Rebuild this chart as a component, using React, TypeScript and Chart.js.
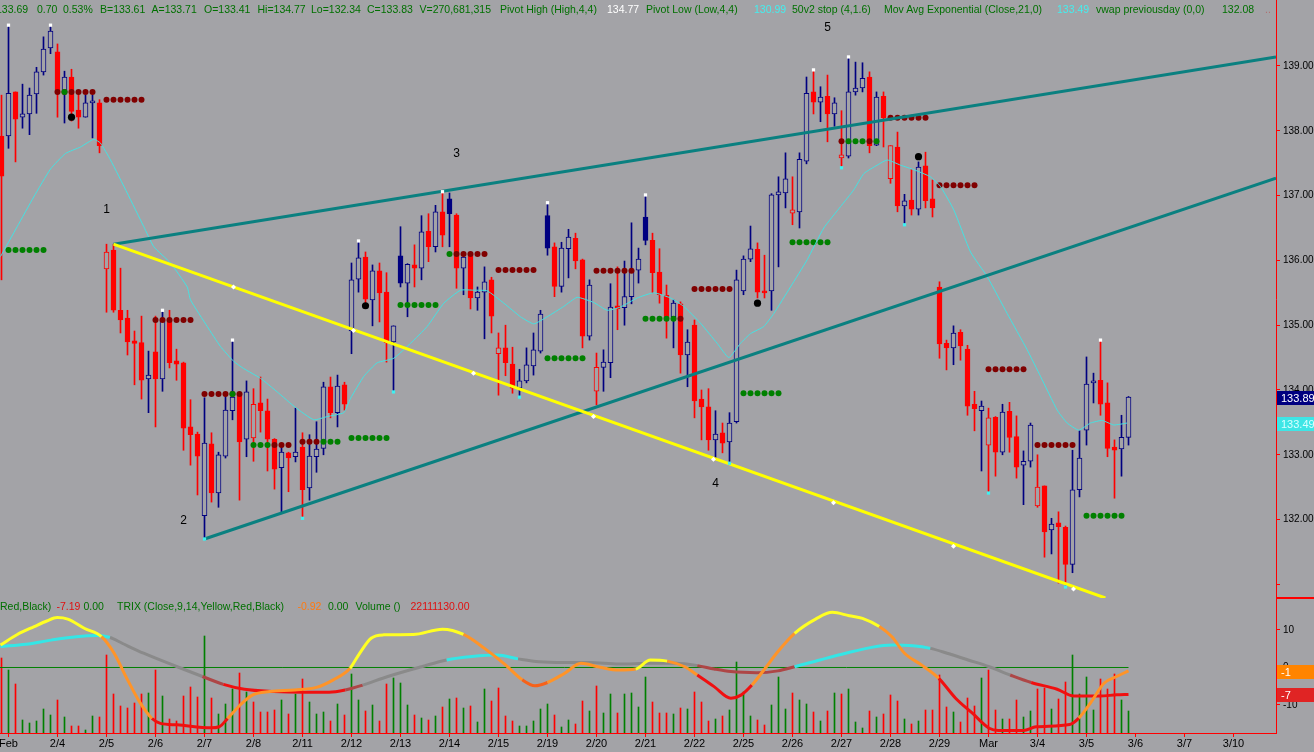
import React, { useEffect, useRef } from 'react';
import { Chart, registerables } from 'chart.js';
Chart.register(...registerables);

const FONT = "'Liberation Sans', Arial, sans-serif";
const BG = '#a3a3a7';
const NAVY = '#000080';
const RED = '#ff0000';

// ---- price bars (7 hourly bars per day; bar 0 = last bar of Jan 31) ----
const opens = [137.92,137.92,138.60,138.21,138.26,138.57,138.91,139.28,139.22,138.60,138.83,138.32,138.21,138.43,138.43,135.87,136.16,135.23,135.11,134.76,134.73,134.17,134.59,134.17,135.08,134.45,134.42,133.43,133.32,132.06,133.17,132.41,132.98,133.68,133.94,133.24,133.26,133.80,133.68,133.24,132.80,133.03,132.97,133.12,132.49,132.97,133.10,134.05,133.65,134.08,134.91,135.71,136.05,135.39,135.84,135.51,134.74,136.07,135.65,135.93,135.88,136.45,136.21,136.75,136.95,136.70,135.88,136.10,135.42,135.51,135.70,134.56,134.65,134.40,134.03,134.14,134.37,134.60,136.69,136.21,135.60,136.18,136.34,136.01,134.83,133.98,134.35,134.42,135.30,135.27,135.44,135.85,136.67,136.31,135.82,135.46,135.13,135.33,134.54,135.00,133.86,133.74,133.23,133.34,133.20,133.51,135.53,136.02,136.17,135.53,135.53,137.01,137.04,136.73,136.75,137.53,138.60,138.44,138.53,138.26,137.58,137.61,138.60,138.66,138.83,137.78,138.53,137.26,137.75,136.84,136.93,136.79,137.46,136.95,135.59,134.72,134.65,134.89,134.63,133.78,133.68,133.15,133.58,133.04,133.67,133.28,132.84,132.90,132.21,132.52,131.84,131.95,131.88,131.31,132.46,133.38,134.11,134.15,133.80,133.12,133.09,133.27];
const highs = [138.55,139.63,138.60,138.72,138.66,138.98,139.45,139.63,139.34,138.92,138.95,138.58,138.55,138.55,138.48,136.25,136.25,135.88,135.23,134.91,135.14,134.60,135.14,135.23,135.23,134.63,134.43,133.85,133.35,133.88,133.34,133.04,133.94,134.77,133.94,134.14,134.02,134.20,133.86,133.25,133.15,133.04,133.72,133.34,133.31,133.51,134.12,134.20,134.23,134.12,135.96,136.30,136.13,135.93,135.96,135.81,134.99,136.52,135.95,136.24,136.69,136.72,136.85,137.06,137.04,136.72,136.11,136.10,135.59,135.90,135.74,134.88,135.00,134.66,134.32,134.65,134.88,135.23,136.89,136.27,136.28,136.48,136.42,136.02,135.70,134.57,134.62,135.64,135.90,135.99,136.58,136.19,137.01,136.42,136.18,135.62,135.39,135.36,134.93,135.08,134.00,134.02,133.68,133.49,133.65,135.85,136.07,136.53,136.27,136.08,137.03,137.29,137.66,137.29,137.66,138.83,138.94,138.68,138.86,138.51,138.31,139.14,139.06,139.05,138.91,138.60,138.60,137.77,137.98,137.02,137.40,137.52,137.67,137.24,135.67,134.77,134.99,134.93,134.69,133.98,133.83,133.72,133.59,133.78,133.81,133.60,133.06,133.49,133.00,132.52,132.02,132.12,131.90,133.07,133.37,134.51,134.26,134.77,134.11,133.23,133.61,133.90];
const lows = [135.70,137.73,137.52,138.04,137.94,138.27,138.86,139.19,138.21,138.12,138.15,138.04,138.21,137.89,137.66,135.20,135.20,134.88,134.54,134.08,133.86,133.65,133.43,133.98,134.34,134.15,133.07,132.84,132.38,131.70,132.27,132.19,132.95,133.54,132.30,132.97,132.90,133.35,132.75,132.47,132.09,132.43,132.89,132.02,132.30,132.73,133.00,133.57,133.43,133.69,134.56,135.51,135.28,134.99,135.05,134.43,133.97,135.59,135.13,135.59,135.70,135.98,136.13,136.21,136.21,135.57,135.47,135.25,135.23,134.79,134.88,133.92,134.22,133.95,133.89,134.11,134.23,134.57,136.08,135.44,135.51,135.73,135.87,134.65,134.77,133.77,133.98,134.19,134.93,135.00,135.33,135.65,136.24,135.50,135.34,134.80,134.65,134.26,134.05,133.57,133.23,133.07,132.95,133.03,132.87,133.49,135.47,135.98,135.42,135.42,135.23,135.90,136.81,136.55,136.50,137.49,138.26,138.14,137.83,138.07,137.43,137.58,138.55,138.60,137.66,137.77,137.75,137.19,136.75,136.55,136.70,136.70,136.81,136.67,134.49,134.31,134.39,134.46,133.61,133.37,132.75,132.41,132.67,133.00,133.04,132.64,132.23,132.81,132.19,131.42,131.47,131.02,130.96,131.18,132.35,133.15,133.80,133.61,132.97,132.33,132.67,133.15];
const closes = [137.30,138.58,138.18,138.26,138.55,138.91,139.26,139.54,138.60,138.83,138.30,138.21,138.43,138.44,137.77,136.13,135.23,135.08,134.74,134.72,134.15,134.23,134.17,135.08,134.42,134.40,133.41,133.31,132.98,133.18,132.41,133.00,133.69,133.89,133.20,133.97,133.78,133.68,133.24,132.78,133.04,132.95,133.04,132.46,132.98,133.09,134.05,133.65,134.06,133.78,135.70,136.04,135.40,135.84,135.50,134.73,134.99,135.65,135.94,135.88,136.44,136.21,136.75,136.39,136.72,135.88,136.05,135.42,135.51,135.67,135.14,134.65,134.42,134.03,134.14,134.39,134.62,135.17,136.19,135.60,136.19,136.36,135.99,134.83,135.62,134.35,134.43,135.28,135.25,135.44,135.85,136.02,136.31,135.81,135.47,135.11,135.34,134.54,134.74,133.83,133.74,133.23,133.32,133.18,133.49,135.70,136.02,136.18,135.51,135.50,137.01,137.06,137.26,136.78,137.56,138.58,138.44,138.52,138.26,138.43,137.63,138.60,138.66,138.81,137.77,138.52,138.20,137.77,136.84,136.92,136.79,137.44,136.92,136.81,134.71,134.65,134.88,134.68,133.75,133.71,133.75,133.57,133.04,133.66,133.27,132.81,132.90,133.46,132.50,131.81,131.93,131.89,131.31,132.46,132.95,134.09,134.14,133.78,133.10,133.07,133.27,133.89];
// volume per bar, millions of shares
const volumes = [75,63,49,13,10,12,24,18,33,16,7,7,3,17,16,78,39,27,25,30,39,40,63,37,14,12,37,46,36,97,35,19,29,44,60,41,31,21,21,23,33,19,39,54,31,19,21,12,29,18,59,33,22,28,12,49,55,50,28,18,15,13,17,26,34,35,25,27,11,44,32,45,17,12,7,7,12,24,29,18,6,13,9,32,22,47,20,39,20,39,40,26,56,31,20,20,19,25,24,41,31,12,14,17,23,71,41,17,13,8,28,56,24,40,33,29,21,12,22,40,39,44,11,5,22,16,19,38,32,14,9,12,23,23,58,26,21,11,35,27,55,63,23,14,14,33,16,22,44,45,24,34,51,78,39,56,23,54,44,59,33,22];

// ---- x axis days ----
const dayStartIdx = [1,8,15,22,29,36,43,50,57,64,71,78,85,92,99,106,113,120,127,134,141,148,155,162,169,176];
const dayLabels = ['Feb','2/4','2/5','2/6','2/7','2/8','2/11','2/12','2/13','2/14','2/15','2/19','2/20','2/21','2/22','2/25','2/26','2/27','2/28','2/29','Mar','3/4','3/5','3/6','3/7','3/10'];
const priceTicks = [131,132,133,134,135,136,137,138,139];

// ---- Mov Avg Exponential (Close,21) ----
const emaIdx = [-0.14,2.24,4.61,7.0,9.14,11.29,13.19,14.14,15.57,17.96,20.33,21.76,24.14,26.53,27,29.39,31.29,33.19,34.61,37,39.39,42,44.61,46.53,48.9,49.86,51.76,53.67,56.04,58.43,60.81,63.19,65.57,67.47,69.39,71.76,74.14,76.04,77.96,80.33,82.24,84.61,86.53,88.43,90.81,93.19,95.57,97.47,99.86,102.24,103.9,105.57,107,108.9,110.33,112.71,115.1,117.47,119.86,121.76,123.19,125.1,126.53,128.43,130.33,132.71,134.14,136.04,138.43,140.81,143.67,146.53,148.43,150.81,152.24,153.9,155.57,157.24,158.9,160.81];
const emaVal = [136.06,136.52,136.98,137.41,137.65,137.75,137.87,137.81,137.55,137.04,136.52,136.21,135.96,135.59,135.39,134.98,134.67,134.44,134.33,134.18,133.97,133.73,133.54,133.59,133.65,133.87,134.21,134.42,134.49,134.72,134.98,135.34,135.54,135.54,135.53,135.34,135.13,135.02,135.13,135.29,135.43,135.35,135.23,135.28,135.42,135.50,135.42,135.29,135.03,134.72,134.50,134.72,134.87,134.98,135.18,135.59,136.01,136.50,136.83,137.09,137.34,137.47,137.55,137.47,137.40,137.29,137.14,136.78,136.13,135.75,135.18,134.62,134.21,133.69,133.49,133.38,133.49,133.53,133.46,133.49];

// ---- pivots ----
const pivotHighIdx = [1,7,23,33,51,63,78,92,116,121,157];
const pivotLowIdx = [29,43,56,74,104,120,129,141,152];

// ---- 50v2 stop dots (runs) ----
const maroonRunStart = [8,15,22,29,39,43,65,71,85,97,99,120,124,127,134,141,148];
const maroonRunLen   = [6,6,6,6,3,3,5,6,6,1,6,1,1,6,6,6,6];
const maroonRunLevel = [138.60,138.48,135.08,133.94,133.15,133.20,136.10,135.85,135.84,135.10,135.56,137.84,137.84,138.20,137.16,134.32,133.15];
const greenRunStart = [1,9,33,36,46,50,57,64,78,92,106,113,121,125,155];
const greenRunLen   = [6,1,1,3,3,6,6,1,6,5,6,6,3,1,6];
const greenRunLevel = [136.16,138.60,133.94,133.15,133.20,133.26,135.31,136.10,134.49,135.10,133.95,136.28,137.84,137.84,132.06];
const blackDotIdx = [10,52,108,131];
const blackDotVal = [138.21,135.30,135.34,137.60];

// ---- trend lines ----
const upperTealIdx = [16,182.07];
const upperTealVal = [136.25,139.14];
const lowerTealIdx = [29,182.07];
const lowerTealVal = [131.70,137.27];
const yellowIdx = [16,157.7];
const yellowVal = [136.25,130.79];
const yellowMarkIdx = [33.14,50.29,67.43,84.57,101.71,118.86,136,153.14];
const yellowMarkVal = [135.59,134.92,134.26,133.59,132.93,132.26,131.59,130.93];

// ---- wave labels ----
const waveText = ['1','2','3','4','5'];
const waveIdx = [15,26,65,102,118];
const waveVal = [136.79,131.99,137.64,132.55,139.59];

// ---- lower panel: TRIX and oscillator ----
const trixIdx = [-0.14,2.26,4.67,6.47,7.97,9.47,11.89,14.29,16.09,17.9,19.7,21.5,22.7,25.1,29.9,31.1,32.3,34.1,35.9,38.3,41.9,45.0,47.4,49.8,51.0,52.8,54.6,58.8,63.0,66.0,69.0,72.0,74.4,76.2,78.0,80.4,82.8,85.2,88.2,90.6,92.7,95.1,97.6,99.4,101.8,104.2,105.7,107.2,109.1,110.9,113.3,116.3,118.7,121.1,123.0,125.4,127.2,129.0,131.4,133.9,136.3,138.7,141.1,142.4,146.0,147.8,152.6,153.9,155.7,157.5,159.3,161.0];
const trixVal = [6.0,8.8,10.9,12.4,13.3,12.9,10.4,8.2,3.8,-2.9,-9.1,-13.6,-14.9,-15.3,-16.1,-15.8,-13.6,-10.0,-7.3,-6.4,-6.0,-5.3,-3.3,-0.2,3.3,7.8,8.7,8.8,10.2,8.8,5.1,0.7,-3.3,-4.9,-4.0,-1.6,1.1,0.2,-0.7,-0.4,2.0,1.7,0.2,-2.0,-5.1,-8.2,-7.3,-4.7,-0.2,4.2,9.1,12.9,14.7,13.8,13.1,10.9,8.2,3.8,0.7,-2.9,-8.2,-12.2,-16.2,-16.8,-16.8,-15.8,-15.2,-13.5,-9.1,-4.2,-2.4,-0.92];
const oscIdx = [-0.14,3.5,7.1,10.7,13.7,15.5,17.3,20.3,25.1,28.7,31.7,34.7,38.9,43.1,46.8,49.1,51.6,55.2,60.0,63.6,67.2,70.8,73.8,76.8,80.4,84.0,88.2,92.7,96.3,99.4,101.8,104.2,107.9,110.9,113.3,116.9,120.6,124.1,127.2,130.2,132.7,135.1,138.1,141.1,144.1,147.1,150.8,153.2,156.9,159.3,161.0];
const oscVal = [5.6,6.2,7.3,8.2,8.5,8.0,6.4,3.8,0.2,-2.4,-4.5,-5.8,-6.4,-6.6,-6.6,-6.0,-4.7,-2.4,0.2,2.0,2.9,3.3,2.3,1.5,1.3,1.3,0.9,1.1,1.1,0.5,-0.4,-1.1,-1.4,-0.9,0.2,2.0,3.8,5.3,6.0,5.8,5.1,3.8,2.0,0.2,-2.0,-4.0,-5.8,-7.6,-7.6,-7.3,-7.19];

// line colouring (styles)
const PAL: Record<string, string> = { Y: '#ffff22', O: '#ff9428', OR: '#f6621a', R: '#f01010', C: '#34e6e6', G: '#8a8a8a', DR: '#ae4646' };
const trixBreaks = [-1,14.1,21.3,32.7,49.1,67,74.1,77.7,91.3,95.6,99.9,107,112.7,125.6,134.1,154.1];
const trixKeys = ['Y','O','R','O','Y','O','OR','O','Y','O','R','O','Y','O','R','O'];
const oscBreaks = [-1,16.3,27,32.7,48.4,52,62.7,74.1,99.9,112.7,114.9,133.4,142.7,148.4];
const oscKeys = ['C','G','DR','R','DR','G','C','G','DR','G','C','G','DR','R'];

const X_MIN = -1.5 / 7;
const X_MAX = 1274.5 / 7;

function colorAt(breaks: number[], keys: string[], x: number) {
  let k = 0;
  for (let i = 0; i < breaks.length; i++) if (x >= breaks[i]) k = i;
  return PAL[keys[k]];
}
function isUp(i: number) { return i === 0 ? closes[0] >= opens[0] : closes[i] >= closes[i - 1]; }
function runPoints(starts: number[], lens: number[], levels: number[]) {
  const pts: { x: number; y: number }[] = [];
  starts.forEach((s, k) => { for (let j = 0; j < lens[k]; j++) pts.push({ x: s + j, y: levels[k] }); });
  return pts;
}
const zip = (xs: number[], ys: number[]) => xs.map((x, i) => ({ x, y: ys[i] }));

const GREEN_TXT = '#007000';
const header1: [string, number, string][] = [
  ['133.69', -4, GREEN_TXT], ['0.70', 37, GREEN_TXT], ['0.53%', 63, GREEN_TXT], ['B=133.61', 100, GREEN_TXT],
  ['A=133.71', 151.5, GREEN_TXT], ['O=133.41', 204, GREEN_TXT], ['Hi=134.77', 257.5, GREEN_TXT], ['Lo=132.34', 311, GREEN_TXT],
  ['C=133.83', 367, GREEN_TXT], ['V=270,681,315', 419.5, GREEN_TXT], ['Pivot High (High,4,4)', 500, GREEN_TXT],
  ['134.77', 607, '#ffffff'], ['Pivot Low (Low,4,4)', 646, GREEN_TXT], ['130.99', 754, '#44eeee'],
  ['50v2 stop (4,1.6)', 792, GREEN_TXT], ['Mov Avg Exponential (Close,21,0)', 884, GREEN_TXT], ['133.49', 1057, '#44eeee'],
  ['vwap previousday (0,0)', 1096, GREEN_TXT], ['132.08', 1222, GREEN_TXT], ['..', 1265, '#b07070'],
];
const header2: [string, number, string][] = [
  ['Red,Black)', 0, GREEN_TXT], ['-7.19', 56.5, '#e01010'], ['0.00', 83.5, GREEN_TXT],
  ['TRIX (Close,9,14,Yellow,Red,Black)', 117, GREEN_TXT], ['-0.92', 297.5, '#ff7a10'], ['0.00', 328, GREEN_TXT],
  ['Volume ()', 355.5, GREEN_TXT], ['22111130.00', 410.5, '#e01010'],
];

export default function App() {
  const mainRef = useRef<HTMLCanvasElement>(null);
  const lowRef = useRef<HTMLCanvasElement>(null);

  useEffect(() => {
    const n = closes.length;
    const candleCol = closes.map((_, i) => (isUp(i) ? NAVY : RED));
    const hollow = closes.map((c, i) => c > opens[i]);

    const mainPlugin = {
      id: 'mainExtras',
      afterDatasetsDraw(chart: any) {
        const { ctx, scales } = chart;
        ctx.save();
        ctx.fillStyle = '#000';
        ctx.font = `12px ${FONT}`;
        ctx.textAlign = 'center';
        ctx.textBaseline = 'middle';
        waveText.forEach((t, k) => ctx.fillText(t, scales.x.getPixelForValue(waveIdx[k]), scales.y.getPixelForValue(waveVal[k])));
        ctx.restore();
      },
      afterDraw(chart: any) {
        const { ctx, scales, chartArea } = chart;
        const r = chartArea.right;
        ctx.save();
        const box = (v: number, bg: string, fg: string) => {
          const y = Math.round(scales.y.getPixelForValue(v)) + 1;
          ctx.fillStyle = bg;
          ctx.fillRect(r + 1, y - 7, 1314 - r, 14);
          ctx.fillStyle = fg;
          ctx.font = `11px ${FONT}`;
          ctx.textAlign = 'left';
          ctx.textBaseline = 'middle';
          ctx.fillText(v.toFixed(2), r + 5, y + 0.5);
        };
        box(closes[n - 1], NAVY, '#ffffff');
        box(emaVal[emaVal.length - 1], '#3ee6e6', '#d8ffff');
        ctx.strokeStyle = RED;
        ctx.lineWidth = 1;
        ctx.beginPath();
        ctx.moveTo(r, chartArea.bottom - 0.5);
        ctx.lineTo(1314, chartArea.bottom - 0.5);
        ctx.stroke();
        ctx.restore();
      },
    };

    const main = new Chart(mainRef.current as HTMLCanvasElement, {
      type: 'bar',
      data: {
        datasets: [
          {
            type: 'bar', label: 'wick', order: 20, grouped: false,
            data: highs.map((h, i) => ({ x: i, y: [lows[i], h] })) as any,
            backgroundColor: candleCol, borderWidth: 0, barThickness: 1,
          } as any,
          {
            type: 'bar', label: 'body', order: 19, grouped: false,
            data: opens.map((o, i) => ({ x: i, y: [o, closes[i]] })) as any,
            backgroundColor: candleCol.map((c, i) => (hollow[i] ? BG : c)),
            borderColor: candleCol, borderWidth: 1, borderSkipped: false, barThickness: 5, minBarLength: 2,
          } as any,
          { type: 'line', label: 'stopRed', order: 18, data: runPoints(maroonRunStart, maroonRunLen, maroonRunLevel), showLine: false, pointRadius: 3, pointBackgroundColor: '#800000', pointBorderWidth: 0 } as any,
          { type: 'line', label: 'stopGreen', order: 17, data: runPoints(greenRunStart, greenRunLen, greenRunLevel), showLine: false, pointRadius: 3, pointBackgroundColor: '#008000', pointBorderWidth: 0 } as any,
          { type: 'line', label: 'black', order: 16, data: zip(blackDotIdx, blackDotVal), showLine: false, pointRadius: 3.6, pointBackgroundColor: '#000', pointBorderWidth: 0 } as any,
          { type: 'line', label: 'ema', order: 15, data: zip(emaIdx, emaVal), borderColor: '#44e2e2', borderWidth: 1, pointRadius: 0, tension: 0.15 } as any,
          { type: 'line', label: 'up', order: 14, data: zip(upperTealIdx, upperTealVal), borderColor: '#0a8080', borderWidth: 3, pointRadius: 0 } as any,
          { type: 'line', label: 'lo', order: 13, data: zip(lowerTealIdx, lowerTealVal), borderColor: '#0a8080', borderWidth: 3, pointRadius: 0 } as any,
          { type: 'line', label: 'yel', order: 12, data: zip(yellowIdx, yellowVal), borderColor: '#ffff00', borderWidth: 3, pointRadius: 0 } as any,
          { type: 'line', label: 'yelm', order: 11, data: zip(yellowMarkIdx, yellowMarkVal), showLine: false, pointStyle: 'rectRot', pointRadius: 2.5, pointBackgroundColor: '#ffffff', pointBorderWidth: 0 } as any,
          { type: 'line', label: 'ph', order: 10, data: pivotHighIdx.map((i) => ({ x: i, y: highs[i] })), showLine: false, pointStyle: 'rect', pointRadius: 2.3, pointBackgroundColor: '#ffffff', pointBorderWidth: 0 } as any,
          { type: 'line', label: 'pl', order: 9, data: pivotLowIdx.map((i) => ({ x: i, y: lows[i] })), showLine: false, pointStyle: 'rect', pointRadius: 2.3, pointBackgroundColor: '#40f0f0', pointBorderWidth: 0 } as any,
        ],
      },
      options: {
        responsive: false, animation: false, devicePixelRatio: 1, events: [],
        layout: { padding: 0, autoPadding: false } as any,
        plugins: { legend: { display: false }, tooltip: { enabled: false } },
        scales: {
          x: { type: 'linear', display: false, min: X_MIN, max: X_MAX, offset: false, grid: { offset: false } } as any,
          y: {
            type: 'linear', position: 'right', min: 130.79, max: 140.0185,
            afterBuildTicks: (ax: any) => { ax.ticks = priceTicks.map((v) => ({ value: v })); },
            afterFit: (s: any) => { s.width = 38; s.paddingTop = 0; s.paddingBottom = 0; },
            ticks: { color: '#000', font: { family: FONT, size: 10 }, padding: 3, callback: (v: any) => (v === 131 ? '' : Number(v).toFixed(2)) },
            grid: { drawOnChartArea: false, drawTicks: true, tickLength: 4, color: RED },
            border: { color: RED, width: 1 },
          } as any,
        },
      },
      plugins: [mainPlugin],
    });

    const lowPlugin = {
      id: 'lowExtras',
      afterDraw(chart: any) {
        const { ctx, scales, chartArea } = chart;
        const r = chartArea.right;
        ctx.save();
        const box = (v: number, bg: string) => {
          const y = Math.round(scales.y.getPixelForValue(v)) + 1;
          ctx.fillStyle = bg;
          ctx.fillRect(r + 1, y - 7, 1314 - r, 14);
          ctx.fillStyle = '#ffffff';
          ctx.font = `11px ${FONT}`;
          ctx.textAlign = 'left';
          ctx.textBaseline = 'middle';
          ctx.fillText(String(Math.round(v)), r + 5, y + 0.5);
        };
        box(trixVal[trixVal.length - 1], '#ff8400');
        box(oscVal[oscVal.length - 1], '#e02424');
        ctx.strokeStyle = RED;
        ctx.lineWidth = 1;
        ctx.beginPath();
        ctx.moveTo(r, 0.5);
        ctx.lineTo(1314, 0.5);
        ctx.stroke();
        ctx.restore();
      },
    };

    const low = new Chart(lowRef.current as HTMLCanvasElement, {
      type: 'bar',
      data: {
        datasets: [
          {
            type: 'bar', label: 'vol', order: 20, grouped: false, yAxisID: 'y2',
            data: volumes.map((v, i) => ({ x: i, y: v })) as any,
            backgroundColor: closes.map((_, i) => (isUp(i) ? '#008000' : '#ff0000')), borderWidth: 0, barThickness: 1,
          } as any,
          { type: 'line', label: 'zero', order: 15, data: [{ x: X_MIN, y: 0 }, { x: n - 1, y: 0 }], borderColor: '#008000', borderWidth: 1, pointRadius: 0 } as any,
          {
            type: 'line', label: 'osc', order: 12, data: zip(oscIdx, oscVal), borderWidth: 3, pointRadius: 0,
            cubicInterpolationMode: 'monotone', borderColor: PAL.C,
            segment: { borderColor: (c: any) => colorAt(oscBreaks, oscKeys, (c.p0.parsed.x + c.p1.parsed.x) / 2) },
          } as any,
          {
            type: 'line', label: 'trix', order: 10, data: zip(trixIdx, trixVal), borderWidth: 3, pointRadius: 0,
            cubicInterpolationMode: 'monotone', borderColor: PAL.Y,
            segment: { borderColor: (c: any) => colorAt(trixBreaks, trixKeys, (c.p0.parsed.x + c.p1.parsed.x) / 2) },
          } as any,
        ],
      },
      options: {
        responsive: false, animation: false, devicePixelRatio: 1, events: [],
        layout: { padding: 0, autoPadding: false } as any,
        plugins: { legend: { display: false }, tooltip: { enabled: false } },
        scales: {
          x: {
            type: 'linear', position: 'bottom', min: X_MIN, max: X_MAX, offset: false,
            afterBuildTicks: (ax: any) => { ax.ticks = dayStartIdx.map((v) => ({ value: v })); },
            afterFit: (s: any) => { s.height = 19; s.paddingLeft = 0; s.paddingRight = 0; },
            ticks: {
              autoSkip: false, maxRotation: 0, minRotation: 0, padding: 0, color: '#000', font: { family: FONT, size: 11 },
              callback: (v: any) => { const k = dayStartIdx.indexOf(Number(v)); return k >= 0 ? dayLabels[k] : ''; },
            },
            grid: { drawOnChartArea: false, drawTicks: true, tickLength: 4, color: RED, offset: false },
            border: { color: RED, width: 1 },
          } as any,
          y: {
            type: 'linear', position: 'right', min: -17.47, max: 18.53,
            afterBuildTicks: (ax: any) => { ax.ticks = [10, 0, -10].map((v) => ({ value: v })); },
            afterFit: (s: any) => { s.width = 38; s.paddingTop = 0; s.paddingBottom = 0; },
            ticks: { color: '#000', font: { family: FONT, size: 10 }, padding: 3 },
            grid: { drawOnChartArea: false, drawTicks: true, tickLength: 4, color: RED },
            border: { color: RED, width: 1 },
          } as any,
          y2: { type: 'linear', display: false, min: 0, max: 135 } as any,
        },
      },
      plugins: [lowPlugin],
    });

    return () => { main.destroy(); low.destroy(); };
  }, []);

  const span = (t: [string, number, string], top: number, key: string) => (
    <span key={key} style={{ position: 'absolute', left: t[1], top, color: t[2], font: `10.5px ${FONT}`, lineHeight: '13px', whiteSpace: 'pre' }}>{t[0]}</span>
  );

  return (
    <div style={{ position: 'fixed', left: 0, top: 0, width: 1314, height: 752, background: BG, overflow: 'hidden' }}>
      <canvas ref={mainRef} width={1314} height={598} style={{ position: 'absolute', left: 0, top: 0 }} />
      <canvas ref={lowRef} width={1314} height={154} style={{ position: 'absolute', left: 0, top: 598 }} />
      {header1.map((t, i) => span(t, 3, 'h1' + i))}
      {header2.map((t, i) => span(t, 600, 'h2' + i))}
    </div>
  );
}
